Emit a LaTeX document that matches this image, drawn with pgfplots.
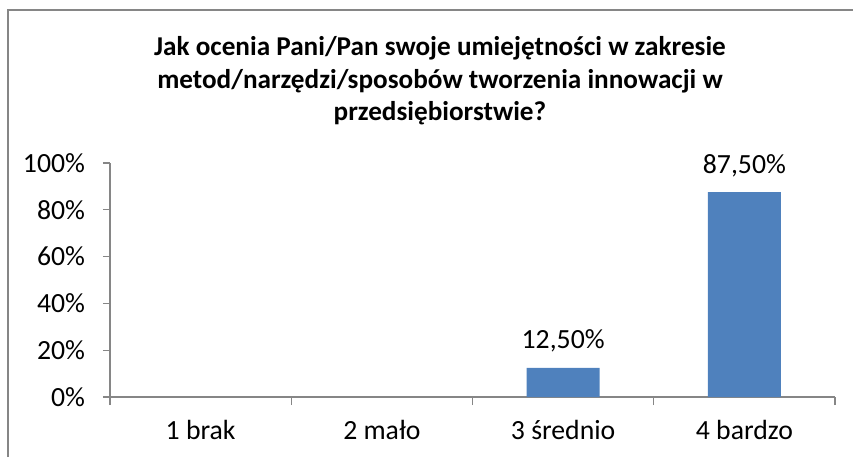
\documentclass[border=0pt]{standalone}
\usepackage{fontspec}
\setmainfont{Carlito}
\usepackage{pgfplots}
\pgfplotsset{compat=1.18}
\definecolor{barblue}{HTML}{4F81BD}
\definecolor{axgray}{HTML}{868686}
\begin{document}
\begin{tikzpicture}[x=0.75pt,y=0.75pt]
\useasboundingbox (0,0) rectangle (853,457);
% chart frame (cropped at right and bottom)
\draw[axgray, line width=1.2pt] (8,0) -- (8,447) -- (853,447);
% title
\node[align=center, font=\fontsize{20.4}{24.4}\selectfont\bfseries] at (440,376)
  {Jak ocenia Pani/Pan swoje umiejętności w zakresie\\
   metod/narzędzi/sposobów tworzenia innowacji w\\
   przedsiębiorstwie?};
\begin{axis}[
  at={(82.5pt,45pt)}, anchor=south west,
  scale only axis, width=543.75pt, height=175.5pt,
  ybar, bar width=54.75pt,
  xmin=0.5, xmax=4.5, ymin=0, ymax=100,
  axis lines*=left,
  axis line style={axgray, line width=0.9pt, -},
  ytick={0,20,...,100},
  yticklabel={\pgfmathprintnumber{\tick}\%},
  xtick={1,2,3,4},
  xticklabels={1 brak, 2 mało, 3 średnio, 4 bardzo},
  minor xtick={0.5,1.5,...,4.5},
  tick align=outside,
  major tick length=5.25pt,
  minor tick length=6pt,
  major x tick style={draw=none},
  minor x tick style={axgray, line width=0.9pt},
  ytick style={axgray, line width=0.9pt},
  /pgf/number format/assume math mode=true,
  tick label style={font=\fontsize{20.8}{24}\selectfont, text=black},
  yticklabel style={xshift=-10pt},
  xticklabel style={yshift=-9pt},
  nodes near coords={\pgfmathprintnumber[fixed,fixed zerofill,precision=2,use comma]{\pgfplotspointmeta}\%},
  nodes near coords style={font=\fontsize{20.8}{24}\selectfont, text=black, yshift=8pt},
  clip=false,
]
\addplot[fill=barblue, draw=none] coordinates {(3,12.5) (4,87.5)};
\end{axis}
\end{tikzpicture}
\end{document}
